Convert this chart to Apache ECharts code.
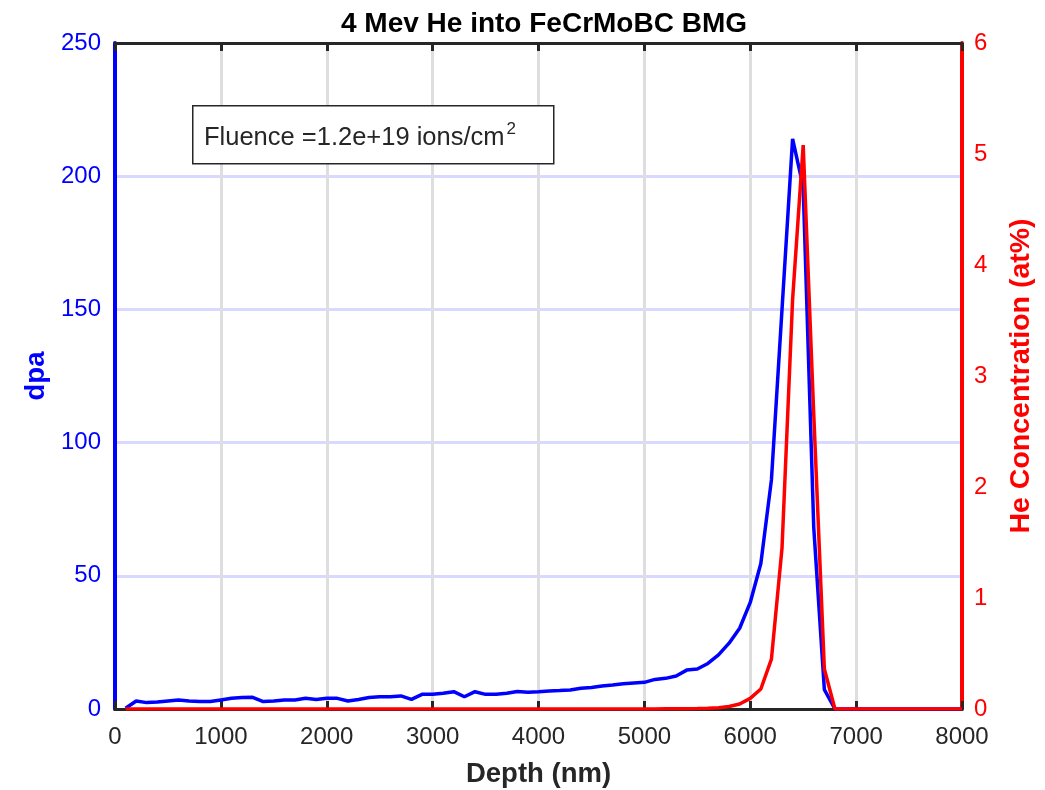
<!DOCTYPE html>
<html>
<head>
<meta charset="utf-8">
<script src="https://cdn.jsdelivr.net/npm/echarts@6/dist/echarts.min.js"></script>
<style>html,body{margin:0;padding:0;background:#fff}#c{width:1045px;height:790px}</style>
</head>
<body>
<div id="c"></div>
<script>
const depth = [100,200,300,400,500,600,700,800,900,1000,1100,1200,1300,1400,1500,1600,1700,1800,1900,2000,2100,2200,2300,2400,2500,2600,2700,2800,2900,3000,3100,3200,3300,3400,3500,3600,3700,3800,3900,4000,4100,4200,4300,4400,4500,4600,4700,4800,4900,5000,5100,5200,5300,5400,5500,5600,5700,5800,5900,6000,6100,6200,6300,6400,6500,6600,6700,6800,6900,7000,7100,7200,7300,7400,7500,7600,7700,7800,7900,8000];
const dpa = [0.3,3.0,2.4,2.6,3.0,3.4,3.0,2.8,2.8,3.4,4.0,4.3,4.4,2.8,3.0,3.4,3.4,4.0,3.6,4.0,4.0,3.0,3.6,4.3,4.6,4.6,4.9,3.6,5.5,5.5,5.9,6.5,4.6,6.5,5.5,5.5,5.9,6.6,6.3,6.5,6.8,6.9,7.1,7.8,8.1,8.6,9.0,9.5,9.8,10.0,11.1,11.5,12.4,14.6,15.0,17.1,20.3,24.7,30.3,40.0,54.6,86.0,150,214,196,68,7.3,0,0,0,0,0,0,0,0,0,0,0,0,0];
const heConc = [0,0,0,0,0,0,0,0,0,0,0,0,0,0,0,0,0,0,0,0,0,0,0,0,0,0,0,0,0,0,0,0,0,0,0,0,0,0,0,0,0,0,0,0,0,0,0,0,0,0.001,0.001,0.002,0.002,0.003,0.004,0.006,0.012,0.022,0.045,0.096,0.18,0.45,1.45,3.69,5.08,2.65,0.36,0,0,0,0,0,0,0,0,0,0,0,0,0];
const titleText = '4 Mev He into FeCrMoBC BMG';
const xName = 'Depth (nm)';
const yLeftName = 'dpa';
const yRightName = 'He Concentration (at%)';
const fluenceText = 'Fluence =1.2e+19 ions/cm';

const FONT = '"Liberation Sans", Arial, Helvetica, sans-serif';
const TICK = 24, NAME = 27.5;
const plain = v => String(v);
const chart = echarts.init(document.getElementById('c'), null, {renderer: 'canvas'});
const blueData = depth.map((d, i) => [d, dpa[i]]);
const redData = depth.map((d, i) => [d, heConc[i]]);

chart.setOption({
  animation: false,
  backgroundColor: '#fff',
  textStyle: {fontFamily: FONT},
  title: {
    text: titleText, left: 539, top: 5, textAlign: 'center',
    textStyle: {fontFamily: FONT, fontSize: 28, fontWeight: 'bold', color: '#000'}
  },
  grid: {left: 115, right: 83, top: 43, bottom: 81, containLabel: false, outerBoundsMode: 'none'},
  xAxis: [{
    type: 'value', min: 0, max: 8000, interval: 1000, position: 'bottom',
    name: xName, nameLocation: 'middle', nameGap: 51,
    nameTextStyle: {fontFamily: FONT, fontSize: NAME, fontWeight: 'bold', color: '#262626'},
    axisLine: {show: true, onZero: false, lineStyle: {color: '#262626', width: 3}},
    axisTick: {show: true, inside: true, length: 8, lineStyle: {color: '#262626', width: 3}},
    axisLabel: {fontFamily: FONT, fontSize: TICK, color: '#262626', margin: 16, formatter: plain},
    splitLine: {show: true, lineStyle: {color: '#dedede', width: 3}}
  }, {
    type: 'value', min: 0, max: 8000, interval: 1000, position: 'top',
    axisLine: {show: true, onZero: false, lineStyle: {color: '#262626', width: 3}},
    axisTick: {show: true, inside: true, length: 8, lineStyle: {color: '#262626', width: 3}},
    axisLabel: {show: false},
    splitLine: {show: false}
  }],
  yAxis: [{
    type: 'value', min: 0, max: 250, interval: 50, position: 'left',
    name: yLeftName, nameLocation: 'middle', nameGap: 62,
    nameTextStyle: {fontFamily: FONT, fontSize: NAME, fontWeight: 'bold', color: '#0000ff'},
    axisLine: {show: true, onZero: false, lineStyle: {color: '#0000ff', width: 4}},
    axisTick: {show: false},
    axisLabel: {fontFamily: FONT, fontSize: TICK, color: '#0000ff', margin: 14, formatter: plain},
    splitLine: {show: true, lineStyle: {color: 'rgba(0,0,255,0.15)', width: 3}}
  }, {
    type: 'value', min: 0, max: 6, interval: 1, position: 'right',
    name: yRightName, nameLocation: 'middle', nameGap: 45,
    nameTextStyle: {fontFamily: FONT, fontSize: 28.5, fontWeight: 'bold', color: '#ff0000'},
    axisLine: {show: true, onZero: false, lineStyle: {color: '#ff0000', width: 4}},
    axisTick: {show: false},
    axisLabel: {fontFamily: FONT, fontSize: TICK, color: '#ff0000', margin: 12, formatter: plain},
    splitLine: {show: false}
  }],
  series: [{
    type: 'line', xAxisIndex: 0, yAxisIndex: 0, data: blueData,
    showSymbol: false, symbol: 'none', smooth: false,
    lineStyle: {color: '#0000ff', width: 3.5}, z: 3
  }, {
    type: 'line', xAxisIndex: 0, yAxisIndex: 1, data: redData,
    showSymbol: false, symbol: 'none', smooth: false,
    lineStyle: {color: '#ff0000', width: 3.5}, z: 4
  }],
  graphic: [{
    type: 'rect', left: 192, top: 105, z: 10,
    shape: {x: 0, y: 0, width: 361, height: 58},
    style: {fill: '#fff', stroke: '#262626', lineWidth: 1.5}
  }, {
    type: 'text', left: 204, top: 121, z: 11,
    style: {
      text: '{n|' + fluenceText + '}{s|2}',
      rich: {
        n: {fontFamily: FONT, fontSize: 25.5, fill: '#262626', lineHeight: 34},
        s: {fontFamily: FONT, fontSize: 17, fill: '#262626', verticalAlign: 'top', padding: [0, 0, 0, 2]}
      }
    }
  }]
});
</script>
</body>
</html>
